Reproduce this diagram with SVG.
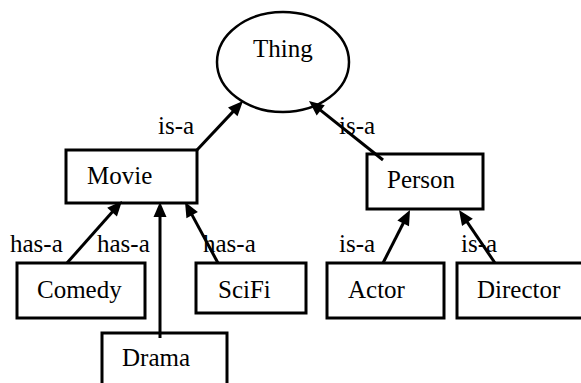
<svg xmlns="http://www.w3.org/2000/svg" width="581" height="383" viewBox="0 0 581 383">
<style>
.box{fill:#fff;stroke:#000;stroke-width:3}
.ell{fill:#fff;stroke:#000;stroke-width:2.5}
.edge{stroke:#000;stroke-width:3;fill:none;marker-end:url(#ah)}
</style>
<defs>
<marker id="ah" markerUnits="userSpaceOnUse" markerWidth="16" markerHeight="14" refX="10" refY="6.5" orient="auto" overflow="visible">
<path d="M0,0 L15,6.5 L0,13 z" fill="#000"/>
</marker>
</defs>
<rect width="581" height="383" fill="#fff"/>
<g font-family="Liberation Serif" font-size="25" fill="#000">
<g id="thing"><ellipse class="ell" cx="283" cy="62" rx="66" ry="50"/><text x="253" y="57">Thing</text></g>
<g id="movie"><rect class="box" x="66" y="150" width="131" height="53"/><text x="87" y="184">Movie</text></g>
<g id="person"><rect class="box" x="367" y="154" width="116" height="55"/><text x="387" y="188">Person</text></g>
<g id="comedy"><rect class="box" x="17" y="263" width="128" height="55"/><text x="37" y="298">Comedy</text></g>
<g id="scifi"><rect class="box" x="196" y="263" width="110" height="50"/><text x="218" y="298">SciFi</text></g>
<g id="actor"><rect class="box" x="327" y="263" width="117" height="55"/><text x="348" y="298">Actor</text></g>
<g id="director"><rect class="box" x="457" y="263" width="130" height="55"/><text x="477" y="298">Director</text></g>
<g id="drama"><rect class="box" x="102" y="333" width="125" height="60"/><text x="122" y="366">Drama</text></g>
<g id="connectors">
<line class="edge" x1="197" y1="150" x2="239.6" y2="104.6"/>
<line class="edge" x1="383" y1="160" x2="312.9" y2="104.1"/>
<line class="edge" x1="67" y1="263" x2="118.7" y2="204.7"/>
<line class="edge" x1="160" y1="338" x2="160" y2="207"/>
<line class="edge" x1="218" y1="263" x2="187.4" y2="206.4"/>
<line class="edge" x1="383" y1="263" x2="407.7" y2="214.5"/>
<line class="edge" x1="495" y1="263" x2="461.8" y2="214.1"/>
<text x="158" y="134">is-a</text>
<text x="339" y="134">is-a</text>
<text x="10" y="252">has-a</text>
<text x="97" y="252">has-a</text>
<text x="203" y="252">has-a</text>
<text x="339" y="252">is-a</text>
<text x="461" y="252">is-a</text>
</g>
</g>
</svg>
